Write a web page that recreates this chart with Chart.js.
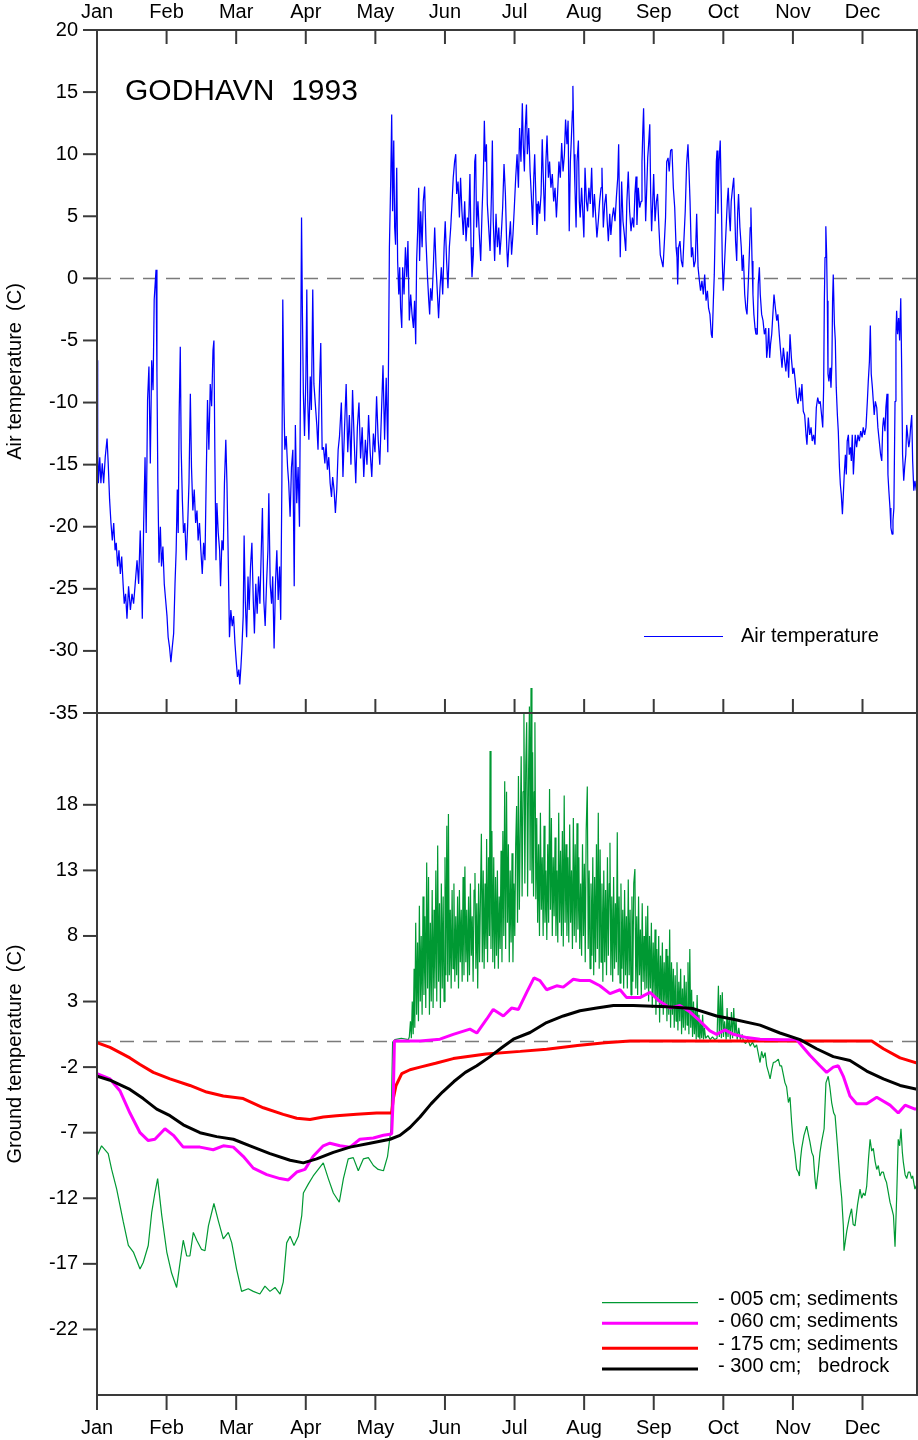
<!DOCTYPE html>
<html><head><meta charset="utf-8">
<script src="https://cdn.jsdelivr.net/npm/chart.js@4.4.1/dist/chart.umd.min.js"></script>
<style>
html,body{margin:0;padding:0;background:#fff;}
#wrap{position:relative;width:918px;height:1440px;overflow:hidden;background:#fff;}
#top{position:absolute;left:0;top:0;}
#bot{position:absolute;left:0;top:660px;}
</style></head><body>
<div id="wrap"><canvas id="top" width="918" height="725"></canvas><canvas id="bot" width="918" height="780"></canvas></div>
<script>
// ---------------- DATA ----------------
const months = ['Jan','Feb','Mar','Apr','May','Jun','Jul','Aug','Sep','Oct','Nov','Dec'];
const airTicks = [20,15,10,5,0,-5,-10,-15,-20,-25,-30,-35];
const groundTicks = [18,13,8,3,-2,-7,-12,-17,-22];
const chartTitle = 'GODHAVN  1993';
const airLegend = 'Air temperature';
const groundLegend = ['- 005 cm; sediments','- 060 cm; sediments','- 175 cm; sediments','- 300 cm;   bedrock'];

// [day of year, °C]
const airTemperature = [
[0,-6.6],[0.3,-13.8],[0.6,-16.5],[1.2,-14.4],[1.7,-16.5],[2.3,-14.9],[2.9,-16.5],[3.6,-14.4],[4.4,-12.9],[4.9,-14.9],
[5.5,-17.8],[6.1,-19.7],[6.7,-21.1],[7.3,-19.7],[7.9,-21.9],[8.4,-21.3],[9.0,-23.2],[9.6,-21.9],[10.2,-23.8],[10.8,-22.4],
[11.4,-24.6],[11.9,-26.2],[12.5,-25.4],[13.1,-27.4],[13.8,-24.8],[14.6,-26.7],[15.3,-25.4],[16.0,-26.2],[16.7,-24.6],[17.5,-22.7],
[18.2,-24.6],[18.9,-20.3],[19.4,-23.5],[19.8,-27.4],[20.4,-19.7],[21.0,-14.4],[21.5,-20.5],[22.1,-9.8],[22.7,-7.1],[23.3,-14.9],
[23.9,-6.6],[24.5,-9.0],[25.0,-1.7],[25.8,0.7],[26.2,-7.6],[26.6,-16.5],[27.1,-22.9],[27.7,-20.0],[28.2,-23.2],[28.8,-21.6],
[29.4,-24.6],[30.0,-25.9],[30.6,-27.2],[31.1,-28.9],[31.7,-29.7],[32.3,-30.9],[32.9,-29.7],[33.5,-28.6],[34.1,-24.6],[34.6,-21.9],
[35.1,-17.0],[35.5,-20.5],[35.9,-11.1],[36.4,-5.5],[36.8,-13.8],[37.3,-17.8],[37.8,-20.5],[38.4,-19.7],[39.0,-22.7],[39.6,-20.0],
[40.2,-16.5],[40.8,-9.3],[41.3,-15.2],[41.9,-18.7],[42.5,-17.0],[43.1,-19.7],[43.7,-18.7],[44.2,-21.1],[44.8,-19.7],[45.4,-21.9],
[46.0,-23.8],[46.6,-21.3],[47.2,-22.7],[47.7,-16.5],[48.3,-9.8],[48.9,-13.8],[49.5,-8.5],[50.1,-10.3],[50.7,-5.8],[51.1,-5.0],
[51.5,-13.8],[52.0,-22.7],[52.4,-18.1],[53.0,-20.5],[53.6,-21.9],[54.0,-24.8],[54.6,-21.1],[55.2,-21.9],[55.7,-16.5],[56.3,-13.0],
[56.8,-16.5],[57.3,-21.9],[57.9,-28.9],[58.5,-26.7],[59.1,-28.0],[59.7,-27.2],[60.3,-29.4],[60.8,-30.7],[61.4,-32.1],[62.0,-31.5],
[62.4,-32.7],[62.9,-31.3],[63.3,-29.9],[63.9,-27.2],[64.3,-20.7],[64.8,-25.9],[65.4,-28.9],[66.0,-24.0],[66.5,-26.7],[67.1,-23.2],
[67.7,-21.3],[68.3,-25.9],[68.8,-28.6],[69.4,-24.6],[70.0,-27.0],[70.6,-24.0],[71.2,-26.2],[71.8,-21.9],[72.3,-18.5],[72.9,-25.9],
[73.5,-28.0],[74.1,-24.6],[74.7,-21.9],[75.1,-17.3],[75.7,-24.6],[76.3,-26.2],[76.8,-24.0],[77.4,-29.8],[78.0,-24.6],[78.6,-21.9],
[79.2,-25.9],[79.8,-23.2],[80.3,-27.5],[80.8,-16.5],[81.2,-1.7],[81.7,-9.8],[82.1,-13.8],[82.7,-12.7],[83.3,-15.2],[83.8,-16.5],
[84.4,-19.2],[85.0,-15.2],[85.6,-13.8],[86.2,-24.8],[86.7,-11.8],[87.3,-18.1],[87.9,-15.2],[88.5,-20.0],[88.9,-9.3],[89.4,4.9],
[89.8,-3.1],[90.2,-9.3],[90.7,-12.7],[91.3,-7.9],[91.7,-0.9],[92.1,-9.8],[92.6,-13.0],[93.2,-7.9],[93.7,-10.6],[94.3,-0.9],
[94.8,-8.5],[95.3,-9.8],[96.1,-11.9],[96.6,-13.8],[97.2,-9.0],[97.8,-5.2],[98.4,-13.8],[99.0,-13.6],[99.6,-14.9],[100.1,-13.3],
[100.7,-15.4],[101.3,-14.4],[101.9,-16.5],[102.5,-17.6],[103.0,-16.0],[103.6,-17.0],[104.2,-18.9],[104.8,-17.0],[105.4,-13.8],[106.0,-12.7],
[106.8,-10],[107.5,-16],[108.2,-12],[108.9,-8.5],[109.6,-14],[110.3,-11],[111.0,-15],[111.7,-9],[112.4,-13],[113.1,-16.5],
[113.8,-12],[114.5,-10],[115.2,-14.5],[115.9,-12],[116.6,-16],[117.3,-13],[118.0,-15],[118.7,-11],[119.4,-14],[120.1,-16],
[120.8,-12.5],[121.5,-14],[122.2,-9.5],[122.9,-13],[123.6,-15],[124.3,-11],[125.0,-7],[125.7,-13],[126.4,-8],[127.1,-14],
[127.8,2.5],[128.4,8.1],[128.8,13.2],[129.2,5.4],[129.7,11.1],[130.1,4.1],[130.5,2.7],[131.0,8.9],[131.4,1.4],[131.9,-1.3],
[132.3,0.9],[132.7,-2.4],[133.2,-4.0],[133.6,0.9],[134.2,-1.3],[134.8,2.5],[135.4,0.1],[135.9,3.0],[136.5,-3.4],[137.1,-1.3],
[137.7,-2.9],[138.3,-4.0],[138.8,-1.8],[139.3,-5.3],[139.7,1.4],[140.2,4.1],[140.6,7.3],[141.0,1.4],[141.5,5.4],[142.1,2.5],
[142.6,6.2],[143.2,7.4],[143.8,3.0],[144.4,0.3],[145.0,-1.8],[145.4,-2.9],[145.8,-0.8],[146.4,-1.8],[147.0,0.9],[147.6,4.1],
[148.2,0.9],[148.8,-1.3],[149.3,-3.2],[149.9,-0.8],[150.5,0.9],[151.1,-1.3],[151.7,2.5],[152.2,4.6],[152.8,1.4],[153.4,-0.8],
[154.0,2.5],[154.6,4.1],[155.2,6.2],[155.7,8.1],[156.3,9.4],[156.8,10.0],[157.2,6.8],[157.8,7.8],[158.4,4.9],[158.9,8.1],
[159.5,5.4],[160.1,3.5],[160.7,6.2],[161.3,3.0],[161.9,4.9],[162.4,4.1],[163.0,8.4],[163.5,2.5],[163.9,0.1],[164.5,1.9],
[165.1,9.4],[165.5,10.0],[165.9,4.1],[166.5,6.2],[167.1,3.5],[167.7,1.4],[168.3,5.4],[168.9,8.6],[169.3,12.7],[169.7,9.4],
[170.2,10.8],[170.6,6.0],[171.2,4.1],[171.8,2.2],[172.4,6.8],[172.8,11.1],[173.2,4.6],[173.8,1.4],[174.4,5.2],[175.0,2.5],
[175.6,4.1],[176.1,1.9],[176.7,3.5],[177.3,5.7],[177.9,9.2],[178.5,6.8],[179.1,2.5],[179.5,0.9],[180.1,3.0],[180.7,4.6],
[181.2,1.9],[181.8,3.5],[182.4,5.7],[183.0,8.1],[183.6,10.0],[184.2,7.3],[184.7,12.1],[185.3,9.4],[185.9,14.1],[186.3,10.8],
[186.8,8.6],[187.2,12.1],[187.7,14.0],[188.1,10.0],[188.7,12.1],[189.3,8.6],[189.8,6.8],[190.4,4.3],[190.9,8.1],[191.3,10.0],
[191.9,6.0],[192.3,3.5],[192.9,6.2],[193.5,5.2],[194.1,6.8],[194.6,11.2],[195.2,7.3],[195.7,4.6],[196.2,9.4],[196.7,11.5],
[197.3,8.1],[197.8,9.4],[198.4,7.3],[199.0,8.4],[199.6,6.2],[200.2,7.3],[200.8,4.9],[201.3,6.8],[201.9,9.4],[202.5,8.1],
[203.1,10.9],[203.7,8.6],[204.3,10.0],[204.8,12.8],[205.4,10.8],[205.9,12.7],[206.4,3.8],[206.9,9.4],[207.3,11.1],[207.8,13.5],
[208.0,15.5],[208.5,10.0],[208.9,7.3],[209.4,4.1],[209.8,9.4],[210.4,11.1],
[210.8,6.2],[211.2,4.9],[211.8,7.3],[212.3,5.4],[212.8,3.3],[213.3,8.9],[213.9,6.2],[214.4,5.4],[215.0,7.3],[215.6,6.0],
[216.2,8.9],[216.8,4.9],[217.4,6.8],[217.9,5.2],[218.5,3.3],[219.1,4.6],[219.7,6.2],[220.3,7.3],[220.7,8.9],[221.3,4.1],
[221.9,6.0],[222.5,6.8],[223.0,4.6],[223.5,3.0],[224.1,5.2],[224.6,3.5],[225.2,4.9],[225.8,5.7],[226.4,4.6],[227.0,6.5],
[227.6,8.1],[228.0,10.8],[228.4,5.4],[228.7,1.7],[229.3,7.8],[229.9,4.6],[230.5,3.5],[231.1,2.2],[231.6,6.2],[232.2,8.6],
[232.8,5.4],[233.4,3.8],[234.0,4.9],[234.6,4.1],[235.1,6.8],[235.6,8.2],[236.0,4.3],[236.6,7.3],[237.2,5.7],[237.8,6.2],
[238.2,9.4],[238.6,12.1],[238.9,13.7],[239.4,8.4],[239.8,4.6],[240.2,6.8],[240.7,9.7],[241.1,10.8],[241.6,12.4],[242.0,6.8],
[242.4,3.8],[242.9,6.2],[243.3,8.4],[243.9,4.6],[244.5,6.2],[245.0,6.8],[245.6,4.1],[246.2,1.9],[246.8,1.4],[247.4,0.9],
[248.0,3.0],[248.5,4.9],[249.0,9.4],[249.6,9.7],[250.1,8.6],[250.7,10.3],[251.3,10.4],[251.9,7.3],[252.5,5.7],[253.1,2.5],
[253.5,1.7],[253.8,-0.5],[254.2,2.5],[254.8,3.0],[255.4,1.4],[256.0,0.9],[256.5,3.0],[257.1,5.4],[257.7,9.2],[258.3,10.8],
[258.7,8.9],[259.2,6.2],[259.8,1.7],[260.3,2.5],[260.9,0.9],[261.5,1.4],[262.1,5.2],[262.7,0.9],[263.3,-0.2],
[263.8,-1.0],[264.4,-0.2],[265.0,-1.3],[265.6,0.3],[266.2,-1.8],[266.8,-1.0],[267.3,-2.4],[267.9,-2.9],[268.5,-4.5],[268.9,-4.8],
[269.4,-1.8],[269.8,0.3],[270.2,4.1],[270.7,9.4],[271.0,10.3],[271.4,5.2],[271.9,9.4],[272.4,11.1],[272.9,6.2],[273.3,1.4],
[273.7,-1.0],[274.2,0.9],[274.6,2.5],[275.1,4.6],[275.5,6.2],[275.9,7.3],[276.4,4.9],[276.8,3.8],[277.2,6.2],[277.8,7.3],
[278.3,8.1],[278.7,5.7],[279.1,3.0],[279.6,1.4],[280.0,5.2],[280.4,6.8],[281.0,4.1],[281.6,2.5],[282.0,0.6],[282.5,1.9],
[283.1,-1.3],[283.6,-2.4],[284.1,-2.9],[284.7,-0.2],[285.1,1.9],[285.5,4.1],[285.8,5.7],[286.3,1.4],[286.7,-1.3],[287.1,-2.9],
[287.6,-4.0],[288.0,-4.5],
[288.6,-4.5],[289.0,-0.5],[289.5,0.9],[289.9,-1.3],[290.5,-2.9],[291.1,-3.4],[291.7,-4.5],[292.3,-4.0],[292.7,-6.4],[293.1,-5.6],
[293.6,-4.0],[294.0,-6.4],[294.4,-5.3],[294.9,-4.5],[295.5,-2.6],[295.9,-1.3],[296.5,-2.4],[297.1,-3.4],[297.6,-2.9],[298.2,-4.5],
[298.8,-5.9],[299.4,-7.2],[300.0,-5.6],[300.6,-6.7],[301.1,-7.5],[301.7,-5.9],[302.3,-8.0],[302.9,-4.5],[303.5,-6.4],[304.1,-7.7],
[304.6,-7.2],[305.2,-8.3],[305.8,-9.6],[306.4,-10.1],[307.0,-8.8],[307.6,-9.9],[308.1,-8.5],[308.7,-10.7],[309.3,-11.0],[309.9,-12.6],
[310.3,-13.4],[310.9,-11.2],[311.5,-12.6],[312.1,-12.0],[312.6,-13.1],[313.2,-12.6],[313.8,-13.4],[314.4,-10.4],[315.0,-9.6],[315.6,-10.1],
[316.1,-9.9],[316.7,-11.0],[317.2,-12.0],[317.6,-8.8],[317.9,-1.8],[318.2,1.7],[318.5,3.0],[318.6,4.2],[318.9,1.9],[319.2,-1.8],
[319.5,-7.7],[319.9,-8.3],[320.4,-7.2],[320.8,-8.8],[321.2,-6.9],[321.5,-1.8],[321.8,0.3],[322.3,-3.7],[322.7,-5.0],[323.1,-8.8],
[323.6,-11.0],[324.0,-12.3],[324.5,-15.2],[324.9,-16.6],[325.3,-17.4],[325.8,-19.0],[326.2,-17.4],[326.6,-15.8],[327.1,-14.2],[327.5,-15.8],
[327.9,-13.1],[328.4,-12.6],[328.8,-14.2],[329.3,-13.6],[329.7,-14.7],[330.1,-12.6],[330.6,-15.8],[331.0,-14.2],[331.4,-12.6],[332.0,-13.6],
[332.6,-12.6],[333.2,-13.1],[333.8,-12.3],[334.4,-12.8],[334.9,-12.0],[335.5,-12.6],[336.1,-12.0],[336.7,-9.9],[337.1,-8.3],[337.6,-6.7],
[338.0,-3.8],[338.4,-7.7],[338.9,-8.8],[339.3,-9.9],[339.7,-11.0],[340.2,-9.9],[340.8,-10.4],[341.3,-12.0],[341.9,-13.1],[342.5,-14.2],
[343.0,-14.7],[343.4,-12.0],[343.8,-11.2],[344.4,-12.3],[344.8,-10.4],[345.3,-9.3],[345.7,-15.8],[346.1,-17.1],[346.6,-18.5],[347.0,-20.1],
[347.5,-20.6],[347.9,-19.5],[348.3,-18.5],[348.8,-9.9],[349.2,-4.5],[349.5,-2.6],[349.9,-4.5],[350.4,-3.2],[350.8,-5.0],[351.3,-1.6],
[351.7,-7.2],[352.1,-14.2],[352.6,-16.3],[353.0,-15.2],[353.5,-14.2],[353.9,-11.8],[354.3,-12.6],[354.8,-13.6],[355.2,-13.1],[355.6,-12.0],
[356.1,-11.0],[356.5,-14.7],[357.0,-17.1],[357.5,-16.3],[358.1,-17.1]
];

// Ground temperatures [day of year, °C]
const ground005 = [
[0,-8.8],[2.0,-8.0],[4.9,-8.6],[6.4,-9.8],[8.6,-11.3],[11.5,-13.8],[13.7,-15.6],[15.9,-16.1],[18.8,-17.4],[20.2,-16.9],
[22.4,-15.6],[23.9,-13.1],[25.3,-11.6],[26.5,-10.5],[28.3,-13.3],[30.5,-16.1],[32.6,-17.7],[34.8,-18.8],[36.3,-16.9],[37.7,-15.2],
[39.2,-16.4],[40.6,-16.4],[42.1,-14.6],[43.6,-15.2],[45.7,-15.9],[47.2,-16.0],[48.7,-14.1],[51.1,-12.4],[53.0,-13.7],[55.2,-15.1],
[57.4,-14.6],[58.9,-15.4],[61.0,-17.4],[63.2,-19.1],[66.1,-18.9],[68.3,-19.1],[71.2,-19.3],[73.4,-18.7],[75.6,-19.1],[77.8,-18.8],
[80.0,-19.3],[81.4,-18.4],[82.9,-15.4],[84.4,-14.9],[86.1,-15.6],[88.0,-14.9],[89.5,-13.3],[90.2,-11.6],[92.4,-10.9],[94.5,-10.3],
[96.7,-9.8],[98.9,-9.3],[101.1,-10.5],[103.3,-11.6],[105.9,-12.3],[107.7,-10.5],[109.8,-9.0],[112.0,-8.9],[114.2,-9.9],[116.4,-9.0],
[118.6,-8.9],[120.8,-9.5],[122.9,-9.8],[125.2,-9.9],[127.0,-8.8],[128.5,-6.7],[129.2,-0.1],[130.2,0.1],[133.0,0.2],[136.1,0.1],
[136.5,0.3],[137.0,1.5],[137.4,0.2],[137.8,3.0],[138.2,0.5],[138.6,5.5],[138.9,1.0],[139.3,9.0],[139.7,2.0],[140.1,7.5],
[140.5,1.5],[140.9,10.3],[141.3,3.0],[141.7,8.0],[142.1,2.0],[142.5,11.0],[142.9,3.5],[143.3,9.5],[143.7,2.5],[144.1,13.6],
[144.5,4.0],[144.9,12.5],[145.3,2.0],[145.7,9.0],[146.1,3.0],[146.5,11.5],[146.9,2.5],[147.3,10.0],[147.7,4.0],[148.1,13.0],
[148.5,3.0],[148.9,14.9],[149.3,4.5],[149.7,10.5],[150.1,2.5],[150.5,12.0],[150.9,4.0],[151.3,11.0],[151.7,3.0],[152.1,14.0],
[152.5,5.0],[152.9,16.4],[153.3,4.5],[153.6,17.3],[154.0,5.0],[154.4,10.0],[154.8,4.0],[155.2,11.5],[155.6,5.5],[156.0,12.0],
[156.4,4.5],[156.8,9.5],[157.2,5.0],[157.6,11.0],[158.0,4.0],[158.4,11.5],[158.8,6.0],[159.2,10.0],[159.6,4.5],[160.0,12.5],
[160.4,5.0],[160.8,13.3],[161.2,6.0],[161.6,10.0],[162.0,4.5],[162.4,11.0],[162.8,5.0],[163.2,12.0],[163.6,6.5],[164.0,9.5],
[164.4,4.5],[164.8,11.5],[165.2,12.8],[165.6,5.5],[166.0,10.5],[166.4,4.0],[166.8,12.0],[167.2,6.0],[167.6,11.0],[168.0,15.8],
[168.4,6.0],[168.8,13.0],[169.2,5.5],[169.6,12.0],[170.0,7.0],[170.3,15.4],[170.7,6.0],[171.1,14.0],[171.5,8.0],[171.8,22.1],
[172.2,7.0],[172.6,16.0],[173.0,6.0],[173.4,14.0],[173.8,5.5],[174.2,12.5],[174.6,6.5],[175.0,13.0],[175.4,5.5],[175.8,11.0],
[176.2,7.0],[176.6,14.5],[177.0,6.0],[177.4,16.0],[177.8,8.0],[178.2,19.8],[178.6,7.0],[179.0,19.0],[179.4,9.0],[179.8,15.0],
[180.2,6.0],[180.6,13.0],[181.0,7.5],[181.4,14.3],[181.8,6.0],[182.2,12.0],[182.6,8.0],[183.0,15.0],[183.4,17.9],[183.8,9.0],
[184.2,20.2],[184.6,10.0],[185.0,16.0],[185.4,21.7],[185.8,11.0],[186.2,19.0],[186.6,25.0],[187.0,12.0],[187.4,21.0],[187.8,24.3],
[188.2,11.0],[188.6,20.0],[189.0,25.5],[189.3,13.0],[189.7,26.9],[190.1,12.0],[190.4,22.0],[190.8,11.0],[191.1,19.0],[191.4,24.3],
[191.8,10.8],[192.2,17.0],[192.6,9.0],[193.0,15.0],[193.4,8.0],[193.8,17.4],[194.2,10.0],[194.6,14.0],[195.0,8.0],[195.4,16.4],
[195.8,9.0],[196.2,13.0],[196.6,7.7],[197.0,15.0],[197.4,9.0],[197.8,19.2],[198.2,10.0],[198.6,17.0],[199.0,8.0],[199.4,14.0],
[199.8,9.5],[200.2,15.5],[200.6,8.0],[201.0,13.0],[201.4,7.5],[201.8,17.4],[202.2,9.0],[202.6,14.5],[203.0,8.0],[203.4,16.0],
[203.8,7.2],[204.2,18.7],[204.6,9.0],[205.0,15.0],[205.4,8.0],[205.8,14.0],[206.2,7.5],[206.6,16.5],[207.0,9.0],[207.4,13.0],
[207.8,7.0],[208.2,17.0],[208.6,8.0],[209.0,15.0],[209.4,7.5],[209.8,16.6],[210.2,8.5],[210.6,14.0],[211.0,7.0],[211.4,12.0],
[211.8,6.5],[212.2,15.0],[212.6,8.0],[213.0,13.5],[213.4,6.0],[213.8,16.0],[214.3,19.4],[214.7,7.0],[215.1,13.0],[215.5,5.5],
[215.9,12.0],[216.3,6.5],[216.7,14.0],[217.1,5.0],[217.5,12.5],[217.9,6.0],[218.3,15.0],[218.7,7.0],[219.1,17.4],[219.5,5.5],
[219.9,14.6],[220.3,6.0],[220.7,12.0],[221.1,4.5],[221.5,13.0],[221.9,6.0],[222.3,11.5],[222.7,5.0],[223.1,14.0],[223.5,6.5],
[223.9,12.0],[224.2,15.1],[224.6,5.0],[225.0,11.0],[225.4,4.5],[225.8,12.5],[226.2,5.5],[226.6,10.5],[227.0,6.0],[227.4,15.9],
[227.8,5.0],[228.2,11.0],[228.6,4.4],[229.0,12.0],[229.4,5.5],[229.8,10.0],[230.2,4.0],[230.6,11.5],[231.0,5.0],[231.4,9.5],
[231.8,4.0],[232.2,12.3],[232.6,5.0],[233.0,10.0],[233.4,3.5],[233.8,11.0],[234.2,4.5],[234.6,12.0],[235.1,13.1],[235.5,4.0],
[235.9,9.5],[236.3,3.5],[236.7,11.0],[237.1,5.0],[237.5,8.5],[237.9,3.4],[238.3,10.5],[238.7,4.5],[239.1,8.0],[239.5,3.9],
[239.9,9.5],[240.3,4.0],[240.7,10.3],[241.1,3.0],[241.5,8.0],[241.9,4.0],[242.3,9.0],[242.7,2.5],[243.1,7.5],[243.5,3.5],
[243.9,8.5],[244.3,2.0],[244.7,7.0],[245.1,3.0],[245.5,8.0],[245.9,1.4],[246.3,6.5],[246.7,2.5],[247.1,7.5],[247.5,2.0],
[247.9,6.0],[248.3,2.5],[248.7,7.0],[249.1,1.5],[249.5,6.5],[249.9,2.0],[250.3,8.5],[250.7,1.0],[251.1,6.0],[251.5,2.0],
[251.9,5.5],[252.3,1.0],[252.7,5.0],[253.1,1.5],[253.5,6.0],[253.9,0.8],[254.3,4.5],[254.7,1.5],[255.1,5.5],[255.5,0.5],
[255.9,4.0],[256.3,1.0],[256.7,5.0],[257.1,0.8],[257.5,4.5],[257.9,1.2],[258.3,6.0],[258.7,0.5],[259.1,7.0],[259.5,1.0],
[259.9,3.9],[260.3,0.3],[260.7,3.0],[261.1,0.5],[261.5,2.5],[261.9,0.1],[262.3,3.5],[262.7,0.3],[263.1,2.0],[263.5,0.1],
[263.9,1.5],[264.3,0.2],[264.7,2.0],[265.1,0.1],[265.5,1.0],[266.0,0.2],[267.0,0.4],[268.0,0.1],[269.0,0.3],[270.0,0.1],
[271.0,0.2],[271.6,4.2],[272.0,0.3],[272.5,3.5],[272.9,0.2],[273.3,3.7],[273.8,0.3],[274.3,1.5],[275.0,0.1],[275.4,2.5],
[275.8,0.3],[276.3,1.8],[276.8,0.1],[277.3,2.2],[277.8,0.2],[278.3,2.5],[278.8,0.4],[279.3,1.6],[279.8,0.1],[280.5,1.0],
[281.2,0.1],[282.0,0.5],[282.5,0.0],[283.5,-0.2],[284.5,0.1],[285.5,-0.4],[286.5,-0.1],[287.5,-0.5],[288.3,-0.3],[289.8,-1.65],
[290.5,-0.8],[291.2,-1.3],[292.0,-0.9],[292.7,-1.9],[293.5,-2.4],[294.2,-2.9],[294.9,-2.2],[295.6,-1.65],[296.5,-1.6],[297.8,-1.4],
[298.5,-1.9],[299.2,-1.9],[300.0,-2.6],[300.7,-3.2],[301.4,-3.5],[302.2,-4.7],[302.9,-4.3],[303.6,-6.2],[304.3,-7.7],[305.0,-8.5],
[305.8,-9.8],[306.5,-10.0],[307.0,-10.3],[307.5,-9.0],[308.0,-8.2],[309.0,-7.2],[310.2,-6.5],[311.0,-7.2],[311.6,-7.7],[312.4,-8.5],
[313.1,-8.8],[313.8,-10.5],[314.3,-11.3],[315.3,-9.8],[316.0,-8.5],[316.7,-7.7],[317.8,-6.7],[318.6,-3.2],[319.6,-2.7],[320.3,-3.5],
[321.1,-4.7],[322.0,-5.5],[322.6,-5.7],[323.6,-7.9],[324.7,-10.5],[325.5,-12.0],[326.2,-14.1],[326.5,-16.0],[327.7,-14.5],[328.8,-13.5],
[329.8,-12.8],[330.5,-14.0],[331.3,-14.1],[332.4,-12.5],[333.5,-11.3],[334.2,-12.0],[335.0,-11.6],[335.7,-11.8],[336.4,-11.1],[337.2,-9.0],
[337.9,-7.5],[338.6,-8.4],[339.3,-8.2],[340.1,-9.2],[340.8,-9.8],[341.5,-9.5],[342.2,-10.3],[343.0,-10.0],[343.7,-10.0],[344.4,-10.5],
[345.1,-10.8],[345.8,-11.5],[346.6,-12.3],[347.4,-12.8],[348.1,-13.3],[348.8,-15.7],[349.5,-12.0],[350.2,-7.5],[350.8,-8.0],[351.4,-6.7],
[352.0,-8.5],[352.4,-9.2],[353.2,-10.2],[353.9,-10.5],[354.6,-10.0],[355.3,-10.0],[356.0,-10.5],[356.5,-10.3],[357.0,-10.8],[357.5,-11.3],
[358.2,-11.0]
];
const ground060 = [
[0,-2.5],[5.7,-2.9],[10.0,-3.8],[14.4,-5.5],[18.8,-7.0],[22.4,-7.6],[25.3,-7.5],[29.7,-6.7],[33.4,-7.2],[37.7,-8.1],
[45.0,-8.1],[50.8,-8.3],[55.2,-8.0],[59.6,-8.1],[63.9,-8.8],[68.3,-9.7],[74.2,-10.2],[80.0,-10.5],[83.6,-10.6],[87.3,-10.0],
[90.9,-9.8],[94.5,-8.8],[98.9,-8.0],[101.8,-7.8],[106.2,-8.0],[110.6,-8.1],[114.9,-7.5],[120.8,-7.4],[125.2,-7.2],[128.8,-7.1],
[129.5,-4.2],[130.0,0],[141.2,0],[149.9,0.13],[155.7,0.5],[163.0,0.9],[166.0,0.6],[170.3,1.65],[173.2,2.4],[177.6,1.9],
[181.2,2.5],[184.2,2.4],[187.8,3.7],[191.0,4.8],[193.6,4.6],[196.5,3.9],[200.9,4.2],[203.8,4.1],[208.2,4.7],[211.1,4.6],
[215.5,4.6],[219.8,4.2],[224.2,3.6],[228.6,3.9],[231.5,3.3],[237.3,3.3],[241.7,3.7],[246.1,3.0],[250.4,2.5],[254.8,2.7],
[259.2,2.2],[263.6,1.5],[267.9,0.76],[270.8,0.5],[274.5,0.84],[278.1,0.5],[284.0,0.25],[289.8,0.13],[300.0,0.08],[305.8,0.08],
[308.7,-0.5],[311.6,-1.1],[316.0,-1.9],[318.9,-2.4],[321.8,-2.0],[324.0,-1.9],[326.2,-2.7],[329.1,-4.2],[332.0,-4.8],[336.4,-4.8],
[340.8,-4.3],[346.6,-4.9],[350.2,-5.5],[353.2,-4.9],[357.5,-5.2],[358.4,-5.2]
];
const ground175 = [
[0,-0.13],[5.7,-0.5],[14.4,-1.3],[18.8,-1.8],[24.6,-2.4],[31.9,-2.9],[40.6,-3.4],[47.9,-3.9],[55.2,-4.2],[63.9,-4.4],
[72.7,-5.1],[81.4,-5.6],[87.3,-5.9],[93.1,-6.0],[98.9,-5.8],[104.7,-5.7],[113.5,-5.6],[122.2,-5.5],[128.8,-5.5],[129.5,-4.4],
[130.7,-3.4],[133.2,-2.5],[136.8,-2.2],[141.2,-2.0],[148.0,-1.7],[155.7,-1.35],[170.0,-1.0],[185.0,-0.8],[196.5,-0.64],[210.0,-0.35],
[222.0,-0.15],[233.0,0],[338.6,0],[343.7,-0.6],[351.0,-1.3],[358.4,-1.7]
];
const ground300 = [
[0,-2.7],[5.7,-3.0],[14.4,-3.7],[20.2,-4.4],[26.1,-5.2],[31.9,-5.7],[37.7,-6.4],[45.0,-7.0],[52.3,-7.3],[59.6,-7.5],
[66.9,-8.0],[75.6,-8.6],[84.4,-9.1],[90.2,-9.3],[96.0,-9.0],[103.3,-8.5],[110.6,-8.1],[119.3,-7.8],[128.1,-7.5],[132.4,-7.2],
[136.8,-6.6],[141.2,-5.8],[146.0,-4.8],[151.0,-3.9],[156.0,-3.1],[161.0,-2.4],[166.0,-1.9],[171.8,-1.2],[177.0,-0.5],[182.0,0.13],
[189.3,0.64],[196.5,1.4],[203.8,1.9],[211.1,2.3],[218.4,2.5],[225.7,2.7],[234.4,2.7],[249.0,2.6],[260.6,2.46],[270.8,1.9],
[278.1,1.65],[289.8,1.2],[298.5,0.6],[307.3,0.1],[314.5,-0.6],[321.8,-1.2],[329.1,-1.5],[336.4,-2.3],[343.7,-2.9],[351.0,-3.4],
[358.4,-3.7]
];

// ---------------- STYLE / HELPERS ----------------
const FONT = '"Liberation Sans", Arial, Helvetica, sans-serif';
const AXIS = '#3a3a3a';
const BLUE = '#0000ff', GREEN = '#009933', MAGENTA = '#ff00ff', RED = '#ff0000', BLACK = '#000000';
const MONTH_LEN = 365 / 12;
const X_MAX = 358.4;
Chart.defaults.font.family = FONT;
Chart.defaults.color = '#000';

const toXY = arr => arr.map(p => ({x: p[0], y: p[1]}));
const monthTicks = s => { s.ticks = months.map((m, i) => ({value: i * MONTH_LEN})); };
function seg(ctx, x1, y1, x2, y2) { ctx.beginPath(); ctx.moveTo(x1, y1); ctx.lineTo(x2, y2); ctx.stroke(); }

const zeroLine = {
  id: 'zeroLine',
  beforeDatasetsDraw(chart) {
    const {ctx, chartArea: a, scales: {y}} = chart;
    const py = Math.round(y.getPixelForValue(0)) + 0.5;
    ctx.save(); ctx.strokeStyle = '#7a7a7a'; ctx.lineWidth = 1.3; ctx.setLineDash([14, 9]);
    seg(ctx, a.left, py, a.right, py); ctx.restore();
  }
};

function drawFrame(chart, topTicks, bottomInward, bottomOutward) {
  const {ctx, chartArea: a, scales: {x, y}} = chart;
  ctx.save();
  ctx.strokeStyle = AXIS; ctx.lineWidth = 2; ctx.setLineDash([]);
  ctx.strokeRect(a.left, a.top, a.right - a.left, a.bottom - a.top);
  y.ticks.forEach(t => { const py = y.getPixelForValue(t.value); seg(ctx, a.left - 14, py, a.left, py); seg(ctx, a.right, py, a.right + 8, py); });
  x.ticks.forEach(t => {
    const px = x.getPixelForValue(t.value);
    if (topTicks) seg(ctx, px, a.top, px, a.top + 14);
    if (bottomInward) seg(ctx, px, a.bottom, px, a.bottom - 14);
    if (bottomOutward) seg(ctx, px, a.bottom, px, a.bottom + 15);
  });
  ctx.restore();
}

const topFrame = {
  id: 'topFrame',
  afterDraw(chart) {
    drawFrame(chart, true, true, false);
    const {ctx, chartArea: a} = chart;
    ctx.save();
    ctx.fillStyle = '#000'; ctx.textAlign = 'left';
    ctx.font = '30px ' + FONT; ctx.textBaseline = 'alphabetic';
    ctx.fillText(chartTitle, a.left + 28, a.top + 70);
    ctx.strokeStyle = BLUE; ctx.lineWidth = 1.2;
    seg(ctx, 644, 636.5, 723, 636.5);
    ctx.font = '20px ' + FONT; ctx.textBaseline = 'middle';
    ctx.fillText(airLegend, 741, 636);
    ctx.restore();
  }
};

const botFrame = {
  id: 'botFrame',
  afterDraw(chart) {
    drawFrame(chart, false, false, true);
    const {ctx} = chart;
    const items = [[GREEN, 1.2, 642.7, 639], [MAGENTA, 3, 663.3, 661], [RED, 3, 688.3, 684.5], [BLACK, 3, 709, 706]];
    ctx.save();
    ctx.font = '20px ' + FONT; ctx.textBaseline = 'middle'; ctx.textAlign = 'left'; ctx.fillStyle = '#000';
    items.forEach((it, i) => {
      ctx.strokeStyle = it[0]; ctx.lineWidth = it[1];
      seg(ctx, 602, it[2], 698, it[2]);
      ctx.fillText(groundLegend[i], 718, it[3]);
    });
    ctx.restore();
  }
};

const baseLine = {pointRadius: 0, tension: 0, fill: false, borderJoinStyle: 'bevel', spanGaps: true};
const tickFont = {size: 20, family: FONT};
// y-axis labels are pushed left by an invisible tick length so the label padding does not inflate the layout
const yGrid = {display: false, drawTicks: true, tickLength: 19};

new Chart(document.getElementById('top'), {
  type: 'line',
  data: {datasets: [Object.assign({label: airLegend, data: toXY(airTemperature), borderColor: BLUE, borderWidth: 1.25}, baseLine)]},
  options: {
    responsive: false, animation: false, devicePixelRatio: 1, events: [],
    layout: {padding: {left: 0, right: 1, top: 0, bottom: 7}},
    plugins: {legend: {display: false}, tooltip: {enabled: false}},
    scales: {
      x: {type: 'linear', position: 'top', min: 0, max: X_MAX, afterBuildTicks: monthTicks, afterFit: s => { s.height = 30; },
          grid: {display: false, drawTicks: false}, border: {display: false},
          ticks: {callback: (v, i) => months[i], autoSkip: false, maxRotation: 0, padding: 6, font: tickFont, color: '#000'}},
      y: {type: 'linear', position: 'left', min: -35, max: 20,
          afterBuildTicks: s => { s.ticks = airTicks.map(v => ({value: v})); }, afterFit: s => { s.width = 97; },
          grid: yGrid, border: {display: false},
          ticks: {padding: 0, font: tickFont, color: '#000'},
          title: {display: true, text: 'Air temperature  (C)', font: tickFont, color: '#000', padding: {top: 3, bottom: 0}}}
    }
  },
  plugins: [zeroLine, topFrame]
});

new Chart(document.getElementById('bot'), {
  type: 'line',
  data: {datasets: [
    Object.assign({label: groundLegend[3], data: toXY(ground300), borderColor: BLACK, borderWidth: 3, order: 1}, baseLine),
    Object.assign({label: groundLegend[1], data: toXY(ground060), borderColor: MAGENTA, borderWidth: 3, order: 2}, baseLine),
    Object.assign({label: groundLegend[2], data: toXY(ground175), borderColor: RED, borderWidth: 3, order: 3}, baseLine),
    Object.assign({label: groundLegend[0], data: toXY(ground005), borderColor: GREEN, borderWidth: 1.2, order: 4, clip: false}, baseLine)
  ]},
  options: {
    responsive: false, animation: false, devicePixelRatio: 1, events: [],
    layout: {padding: {left: 0, right: 1, top: 53, bottom: 0}},
    plugins: {legend: {display: false}, tooltip: {enabled: false}},
    scales: {
      x: {type: 'linear', position: 'bottom', min: 0, max: X_MAX, afterBuildTicks: monthTicks, afterFit: s => { s.height = 45; },
          grid: {display: false, drawTicks: false}, border: {display: false},
          ticks: {callback: (v, i) => months[i], autoSkip: false, maxRotation: 0, padding: 21, font: tickFont, color: '#000'}},
      y: {type: 'linear', position: 'left', min: -27, max: 25,
          afterBuildTicks: s => { s.ticks = groundTicks.map(v => ({value: v})); }, afterFit: s => { s.width = 97; },
          grid: yGrid, border: {display: false},
          ticks: {padding: 0, font: tickFont, color: '#000'},
          title: {display: true, text: 'Ground temperature  (C)', font: tickFont, color: '#000', padding: {top: 3, bottom: 0}}}
    }
  },
  plugins: [zeroLine, botFrame]
});
</script></body></html>
